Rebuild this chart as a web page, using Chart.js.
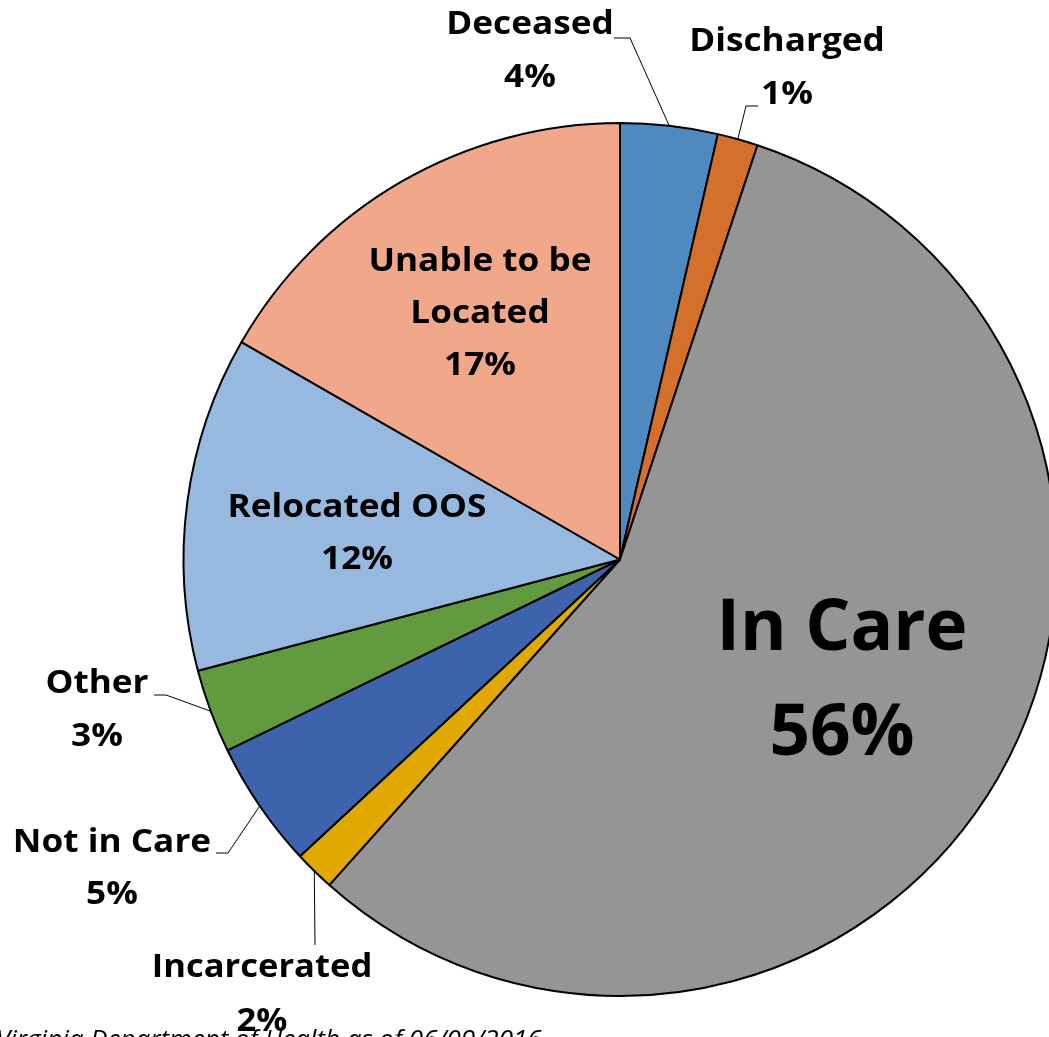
<!DOCTYPE html>
<html>
<head>
<meta charset="utf-8">
<script src="https://cdn.jsdelivr.net/npm/chart.js@4/dist/chart.umd.min.js"></script>
<style>
  html, body { margin: 0; padding: 0; background: #fff; overflow: hidden; width: 1049px; height: 1037px; }
  #wrap { position: absolute; left: 0; top: 0; width: 1102px; height: 1037px; }
</style>
</head>
<body>
<div id="wrap"><canvas id="pie" width="1102" height="1037"></canvas></div>
<script>
// --- données ---
const categories = ['Deceased', 'Discharged', 'In Care', 'Incarcerated', 'Not in Care', 'Other', 'Relocated OOS', 'Unable to be Located'];
const shares = [3.6, 1.5, 56.5, 1.5, 4.7, 3.1, 12.4, 16.7];
const shareLabels = ['4%', '1%', '56%', '2%', '5%', '3%', '12%', '17%'];
const sliceColors = ['#5089BF', '#D2702C', '#959595', '#E0A800', '#3C63AC', '#629A40', '#97B8DF', '#F0A78A'];
const footnote = 'Virginia Department of Health as of 06/09/2016';

// --- mise en page des étiquettes (texte centré, lignes) ---
const labelLayout = [
  { lines: ['Deceased', '4%'], x: 530, y: 25, lh: 53, size: 32, sx: 1.1, leader: [[614, 38], [630, 38]] },
  { lines: ['Discharged', '1%'], x: 787, y: 42, lh: 53, size: 32, sx: 1.1, leader: [[758, 106], [746, 106]] },
  { lines: ['In Care', '56%'], x: 842, y: 630, lh: 105, size: 71, sx: 1 },
  { lines: ['Incarcerated', '2%'], x: 262, y: 968, lh: 54, size: 32, sx: 1.08, leader: [[315, 945]] },
  { lines: ['Not in Care', '5%'], x: 112, y: 843, lh: 52, size: 32, sx: 1.1, leader: [[216, 853], [228, 853]] },
  { lines: ['Other', '3%'], x: 97, y: 684, lh: 53, size: 32, sx: 1.1, leader: [[154, 695], [166, 695]] },
  { lines: ['Relocated OOS', '12%'], x: 357, y: 508, lh: 52, size: 32, sx: 1.1 },
  { lines: ['Unable to be', 'Located', '17%'], x: 480, y: 262, lh: 52, size: 32, sx: 1.1 }
];

const FONT = '"Open Sans", "DejaVu Sans", sans-serif';

const labelPlugin = {
  id: 'sliceLabels',
  afterDraw(chart) {
    const ctx = chart.ctx;
    const arcs = chart.getDatasetMeta(0).data;
    ctx.save();

    // note de source (sous les étiquettes)
    ctx.fillStyle = '#000';
    ctx.font = 'italic 26px ' + FONT;
    ctx.textAlign = 'left';
    ctx.textBaseline = 'alphabetic';
    ctx.fillText(footnote, -4, 1048);

    // traits de rappel
    ctx.strokeStyle = '#000';
    ctx.lineWidth = 1;
    labelLayout.forEach((lab, i) => {
      if (!lab.leader) return;
      const a = arcs[i];
      const mid = (a.startAngle + a.endAngle) / 2;
      const ax = a.x + Math.cos(mid) * a.outerRadius;
      const ay = a.y + Math.sin(mid) * a.outerRadius;
      ctx.beginPath();
      ctx.moveTo(ax, ay);
      lab.leader.slice().reverse().forEach(p => ctx.lineTo(p[0], p[1]));
      ctx.stroke();
    });

    // textes (légèrement élargis pour se rapprocher de Calibri gras)
    ctx.textAlign = 'center';
    ctx.textBaseline = 'middle';
    labelLayout.forEach((lab, i) => {
      ctx.font = 'bold ' + lab.size + 'px ' + FONT;
      const lines = lab.lines.slice(0, -1).concat([shareLabels[i]]);
      lines.forEach((t, k) => {
        ctx.save();
        ctx.translate(lab.x, lab.y + k * lab.lh);
        ctx.scale(lab.sx, 1);
        ctx.fillText(t, 0, 0);
        ctx.restore();
      });
    });
    ctx.restore();
  }
};

new Chart(document.getElementById('pie'), {
  type: 'pie',
  data: {
    labels: categories,
    datasets: [{
      data: shares,
      backgroundColor: sliceColors,
      borderColor: '#000',
      borderWidth: 2,
      hoverOffset: 0
    }]
  },
  options: {
    responsive: false,
    animation: false,
    devicePixelRatio: 1,
    layout: { padding: { left: 182, right: 44, top: 122, bottom: 40 } },
    plugins: {
      legend: { display: false },
      tooltip: { enabled: false }
    }
  },
  plugins: [labelPlugin]
});
</script>
</body>
</html>
